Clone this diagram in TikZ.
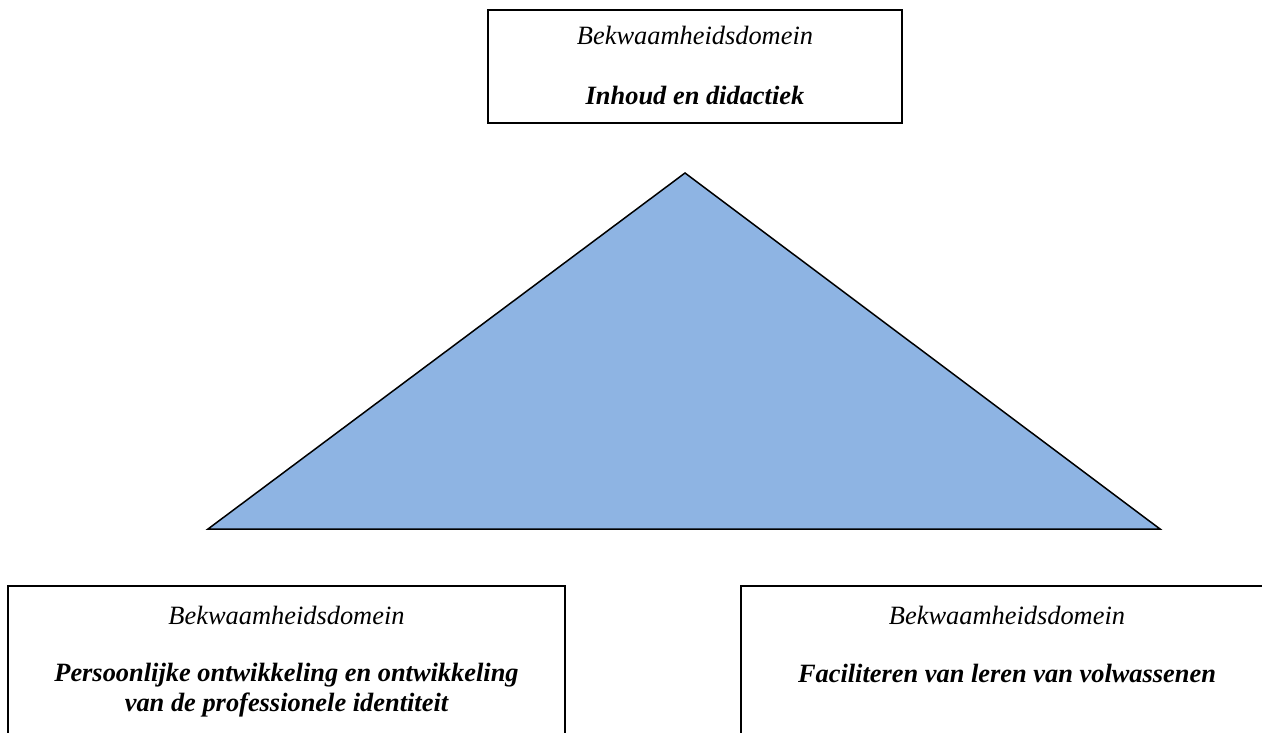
\documentclass[tikz,border=0pt]{standalone}
\usepackage{fontspec}
\setmainfont{Liberation Serif}
\definecolor{triblue}{HTML}{8EB4E3}

\begin{document}
\begin{tikzpicture}[x=1pt,y=-1pt]
\useasboundingbox (0,0) rectangle (1262,733);

% domain boxes
\begin{scope}[every node/.style={draw=black,line width=1.5pt,rectangle,inner sep=0pt}]
    \node[minimum width=414pt,minimum height=113pt] (top) at (695,66.5) {};
    \node[minimum width=557pt,minimum height=174pt] (left) at (286.5,673) {};
    \node[minimum width=532pt,minimum height=174pt] (right) at (1007,673) {};
\end{scope}

% texts
\begin{scope}[every node/.style={anchor=base,inner sep=0pt,align=center,
              font=\fontsize{26.4}{29.5}\selectfont\itshape}]
    \node (topkop) at (695,45) {Bekwaamheidsdomein};
    \node[font=\fontsize{26.4}{29.5}\selectfont\bfseries\itshape] (topnaam) at (695,105) {Inhoud en didactiek};
    \node (leftkop) at (286.5,624) {Bekwaamheidsdomein};
    \node[font=\fontsize{26.4}{29.5}\selectfont\bfseries\itshape] (leftnaam) at (286.5,711)
        {Persoonlijke ontwikkeling en ontwikkeling\\van de professionele identiteit};
    \node (rightkop) at (1007,624) {Bekwaamheidsdomein};
    \node[font=\fontsize{26.4}{29.5}\selectfont\bfseries\itshape] (rightnaam) at (1007,682) {Faciliteren van leren van volwassenen};
\end{scope}

% triangle
\coordinate (apex) at (685,173);
\coordinate (bl) at (208,529);
\coordinate (br) at (1160,529);
\draw[line width=1.5pt,line join=miter,fill=triblue] (apex) -- (bl) -- (br) -- cycle;
\end{tikzpicture}
\end{document}
